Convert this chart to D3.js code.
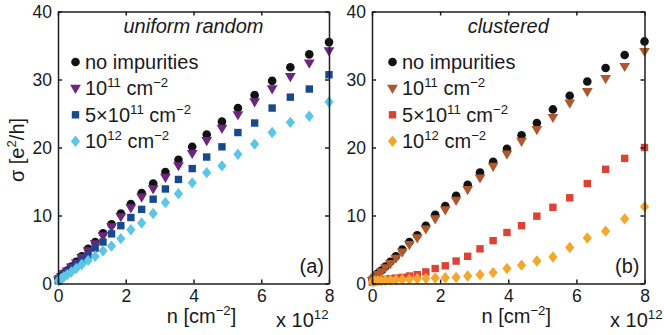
<!DOCTYPE html>
<html><head><meta charset="utf-8">
<script src="https://cdn.jsdelivr.net/npm/d3@7"></script>
<style>
body{margin:0;background:#fff;}
svg{display:block;font-family:"Liberation Sans",Arial,Helvetica,sans-serif;}
</style></head>
<body><svg id="c" width="664" height="335"></svg>
<script>
// carrier density n (units of 1e12 cm^-2)
const nValues = [0.011,0.044,0.099,0.176,0.274,0.395,0.538,0.702,0.889,1.097,1.328,1.580,1.855,2.151,2.469,2.809,3.171,3.556,3.962,4.390,4.840,5.311,5.805,6.321,6.859,7.418,8.000];

// (a) uniform random
const noImpA  = [0.5,0.8,1.1,1.5,1.9,2.5,3.2,4.0,5.1,6.1,7.4,8.7,10.3,11.7,13.3,14.7,16.4,18.2,20.1,21.9,23.8,25.8,27.7,29.8,31.8,33.7,35.5];
const imp1e11A = [0.5,0.7,1.0,1.4,1.8,2.4,3.0,3.8,4.8,5.8,7.0,8.3,9.8,11.1,12.7,13.9,15.6,17.3,19.1,21.0,22.8,24.8,26.7,28.6,30.4,32.4,34.2];
const imp5e11A = [0.4,0.6,0.9,1.2,1.6,2.1,2.7,3.4,4.2,5.2,6.1,7.3,8.5,9.7,10.9,12.4,13.9,15.3,16.9,18.6,20.1,22.2,23.6,25.8,27.4,28.6,30.7];
const imp1e12A = [0.4,0.5,0.7,1.0,1.3,1.7,2.2,2.8,3.4,4.0,4.8,5.5,6.6,7.9,8.9,10.3,11.9,13.2,14.8,16.3,17.3,19.0,20.5,22.2,23.7,24.6,26.7];

// (b) clustered
const noImpB  = [0.5,0.8,1.1,1.5,1.9,2.5,3.2,4.0,5.0,6.1,7.1,8.5,10.1,11.4,12.9,14.5,16.3,17.9,19.8,21.8,23.6,25.6,27.6,29.7,31.7,33.6,35.6];
const imp1e11B = [0.4,0.6,0.9,1.3,1.7,2.3,2.9,3.7,4.6,5.7,6.7,8.0,9.5,10.8,12.2,13.8,15.5,17.2,19.0,20.9,22.6,24.4,26.5,28.2,30.1,31.9,34.1];
const imp5e11B = [0.2,0.3,0.3,0.4,0.5,0.6,0.7,0.8,0.9,1.1,1.3,1.7,2.2,2.6,3.3,4.0,5.1,6.3,7.5,8.5,9.9,11.2,12.6,14.7,16.8,18.4,20.0];
const imp1e12B = [0.3,0.3,0.35,0.4,0.4,0.45,0.5,0.55,0.6,0.65,0.7,0.75,0.8,0.85,0.9,1.1,1.3,1.6,2.2,2.7,3.3,3.9,5.3,6.7,7.7,9.5,11.3];

const xTicks = [0,2,4,6,8];
const yTicks = [0,10,20,30,40];
const panelTitles = ["uniform random","clustered"];
const panelTags = ["(a)","(b)"];
// legend labels: [text, isSuperscript]
const legendLabels = [
  [["no impurities",0]],
  [["10",0],["11",1],[" cm",0],["\u22122",1]],
  [["5\u00d710",0],["11",1],[" cm",0],["\u22122",1]],
  [["10",0],["12",1],[" cm",0],["\u22122",1]]
];
const colorsA = ["#121212","#6e2580","#17498c","#5cc6e8"];
const colorsB = ["#121212","#b0582d","#dc4334","#f3a82b"];
const shapes = ["circle","triangle","square","diamond"];

const svg = d3.select("#c");
const FS = 20;      // legend / titles / labels
const TFS = 17.5;   // tick labels
const ink = "#1a1a1a";

const panels = [
  {x0:58, x1:329, series:[noImpA,imp1e11A,imp5e11A,imp1e12A], colors:colorsA, title:panelTitles[0], tag:panelTags[0], legDx:17.5, multX:276},
  {x0:372, x1:644.5, series:[noImpB,imp1e11B,imp5e11B,imp1e12B], colors:colorsB, title:panelTitles[1], tag:panelTags[1], legDx:20.5, multX:610}
];
const yTop = 11.5, yBot = 283.5;

function symPath(shape){
  if(shape==="circle") return d3.symbol(d3.symbolCircle, Math.PI*4.3*4.3)();
  if(shape==="square") return "M-3.7,-3.7H3.7V3.7H-3.7Z";
  if(shape==="triangle") return "M-5.4,-3.7L5.4,-3.7L0,5.5Z";
  if(shape==="diamond") return "M0,-5.7L4.6,0L0,5.7L-4.6,0Z";
}

function supText(sel, parts, fs){
  let prevSup = false;
  parts.forEach(([t,s])=>{
    const ts = sel.append("tspan").text(t);
    if(s){ ts.attr("font-size", fs*0.66); if(!prevSup) ts.attr("dy", -fs*0.4); }
    else { ts.attr("font-size", fs); if(prevSup) ts.attr("dy", fs*0.4); }
    prevSup = !!s;
  });
}

panels.forEach(p=>{
  const x = d3.scaleLinear().domain([0,8]).range([p.x0,p.x1]);
  const y = d3.scaleLinear().domain([0,40]).range([yBot,yTop]);
  const g = svg.append("g");

  // data
  p.series.forEach((vals,si)=>{
    g.append("g").selectAll("path").data(vals).join("path")
      .attr("d", symPath(shapes[si]))
      .attr("transform",(d,i)=>`translate(${x(nValues[i])},${y(d)})`)
      .attr("fill", p.colors[si]);
  });

  // axes (inward ticks, full box)
  const bottom = d3.axisBottom(x).tickValues(xTicks).tickSizeInner(-4).tickSizeOuter(0).tickPadding(6);
  const top = d3.axisTop(x).tickValues(xTicks).tickSizeInner(-4).tickSizeOuter(0).tickFormat("");
  const left = d3.axisLeft(y).tickValues(yTicks).tickSizeInner(-4).tickSizeOuter(0).tickPadding(6);
  const right = d3.axisRight(y).tickValues(yTicks).tickSizeInner(-4).tickSizeOuter(0).tickFormat("");
  [[bottom,`translate(0,${yBot})`],[top,`translate(0,${yTop})`],[left,`translate(${p.x0},0)`],[right,`translate(${p.x1},0)`]].forEach(([a,t])=>{
    const gg = g.append("g").attr("transform",t).call(a);
    gg.selectAll("path,line").attr("stroke","#1e1e1e").attr("stroke-width",1.5);
    gg.selectAll("text").attr("font-size",TFS).attr("fill",ink).attr("font-family","Liberation Sans,Arial,sans-serif");
  });

  // title
  g.append("text").attr("x",(p.x0+p.x1)/2).attr("y",33).attr("text-anchor","middle")
    .attr("font-size",FS).attr("font-style","italic").attr("fill",ink).text(p.title);

  // legend
  legendLabels.forEach((lab,i)=>{
    const ly = 62 + i*26.4;
    const mx = p.x0 + p.legDx;
    g.append("path").attr("d",symPath(shapes[i])).attr("transform",`translate(${mx},${ly})`).attr("fill",p.colors[i]);
    const t = g.append("text").attr("x",mx+9.5).attr("y",ly+6.8).attr("fill",ink).attr("font-size",FS);
    supText(t, lab, FS);
  });

  // panel tag
  g.append("text").attr("x",p.x1-5).attr("y",273).attr("text-anchor","end").attr("font-size",FS).attr("fill",ink).text(p.tag);

  // x label
  const xl = g.append("text").attr("x",(p.x0+p.x1)/2 + 8).attr("y",323).attr("text-anchor","middle").attr("fill",ink).attr("font-size",FS);
  supText(xl, [["n [cm",0],["\u22122",1],["]",0]], FS);

  // multiplier
  const mt = g.append("text").attr("x",p.multX).attr("y",327).attr("text-anchor","start").attr("fill",ink).attr("font-size",FS);
  supText(mt, [["x 10",0],["12",1]], FS);
});

// y label
const yl = svg.append("text").attr("transform","translate(24,150) rotate(-90)").attr("text-anchor","middle").attr("fill",ink).attr("font-size",FS);
supText(yl, [["\u03c3 [e",0],["2",1],["/h]",0]], FS);
</script></body></html>
